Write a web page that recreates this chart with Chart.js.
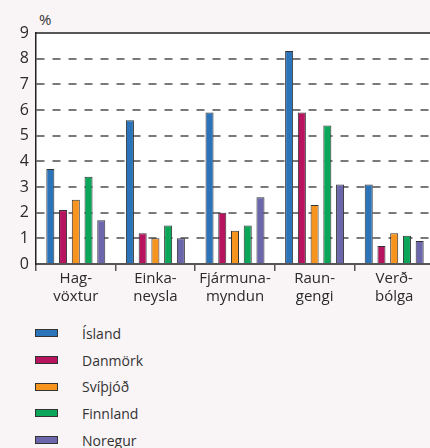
<!DOCTYPE html>
<html>
<head>
<meta charset="utf-8">
<script src="https://cdn.jsdelivr.net/npm/chart.js@4/dist/chart.umd.min.js"></script>
<style>
  html, body { margin: 0; padding: 0; background: #f9f4f6; width: 430px; height: 448px; overflow: hidden; }
  #wrap { position: absolute; left: 0; top: 0; width: 434px; height: 310px; }
  #unit { position: absolute; left: 39px; top: 9px; font: 15px "Open Sans", sans-serif; color: #333; }
  #legend { position: absolute; left: 35px; top: 320px; font: 14px "Open Sans", sans-serif; color: #333; }
  #legend div { height: 26.7px; display: flex; align-items: center; }
  #legend span.box { display: inline-block; width: 21px; height: 6px; border: 1px solid #333; margin-right: 24px; }
</style>
</head>
<body>
<div id="unit">%</div>
<div id="wrap"><canvas id="chart" width="434" height="310"></canvas></div>
<div id="legend"></div>
<script>
const categories = [['Hag-', 'vöxtur'], ['Einka-', 'neysla'], ['Fjármuna-', 'myndun'], ['Raun-', 'gengi'], ['Verð-', 'bólga']];
const countries = ['Ísland', 'Danmörk', 'Svíþjóð', 'Finnland', 'Noregur'];
const colors = ['#2c74ba', '#b8135f', '#f7941e', '#0aa65a', '#6c66ad'];

const island   = [3.7, 5.6, 5.9, 8.3, 3.1];
const danmork  = [2.1, 1.2, 2.0, 5.9, 0.7];
const svithjod = [2.5, 1.0, 1.3, 2.3, 1.2];
const finnland = [3.4, 1.5, 1.5, 5.4, 1.1];
const noregur  = [1.7, 1.0, 2.6, 3.1, 0.9];
const series = [island, danmork, svithjod, finnland, noregur];

const yTicks = [0, 1, 2, 3, 4, 5, 6, 7, 8, 9];

// white plot background + top frame line
const frameTop = {
    id: 'frameTop',
    beforeDraw(chart) {
        const { ctx, chartArea } = chart;
        ctx.save();
        ctx.fillStyle = '#ffffff';
        ctx.fillRect(chartArea.left, chartArea.top, chartArea.right - chartArea.left, chartArea.bottom - chartArea.top);
        ctx.restore();
    },
    afterDraw(chart) {
        const { ctx, chartArea } = chart;
        ctx.save();
        ctx.strokeStyle = '#222';
        ctx.lineWidth = 1.5;
        ctx.beginPath();
        ctx.moveTo(chartArea.left, chartArea.top);
        ctx.lineTo(chartArea.right, chartArea.top);
        ctx.stroke();
        ctx.restore();
    }
};

const ctx = document.getElementById('chart').getContext('2d');
const chart = new Chart(ctx, {
    type: 'bar',
    data: {
        labels: categories,
        datasets: countries.map((name, i) => ({
            label: name,
            data: series[i],
            backgroundColor: colors[i],
            borderColor: '#333',
            borderWidth: 1,
            categoryPercentage: 0.8,
            barPercentage: 0.63
        }))
    },
    options: {
        responsive: false,
        animation: false,
        layout: { padding: { top: 33, left: 0, right: 0, bottom: 0 } },
        plugins: {
            legend: { display: false },
            tooltip: { enabled: false }
        },
        scales: {
            x: {
                afterFit: axis => { axis.height = 46; },
                grid: {
                    display: true,
                    drawOnChartArea: false,
                    drawTicks: true,
                    tickLength: 7,
                    color: '#555',
                    lineWidth: 1.5
                },
                border: { display: true, color: '#555', width: 2 },
                ticks: {
                    color: '#2a2a2a',
                    font: { family: 'Open Sans', size: 15 },
                    padding: -1,
                    maxRotation: 0,
                    autoSkip: false
                }
            },
            y: {
                min: 0,
                max: 9,
                afterFit: axis => { axis.width = 36; },
                afterBuildTicks: axis => { axis.ticks = yTicks.map(v => ({ value: v })); },
                grid: {
                    drawTicks: false,
                    lineWidth: 2,
                    color: c => (c.tick && (c.tick.value === 0 || c.tick.value === 9)) ? 'rgba(0,0,0,0)' : '#7a7a7a'
                },
                border: { display: true, color: '#222', width: 1.5, dash: [8, 8] },
                ticks: {
                    color: '#2a2a2a',
                    font: { family: 'Open Sans', size: 16 },
                    padding: 7
                }
            }
        }
    },
    plugins: [frameTop]
});

// simple vertical legend below the chart
const legend = document.getElementById('legend');
chart.data.datasets.forEach(ds => {
    const row = document.createElement('div');
    row.innerHTML = '<span class="box" style="background:' + ds.backgroundColor + '"></span>' + ds.label;
    legend.appendChild(row);
});
</script>
</body>
</html>
